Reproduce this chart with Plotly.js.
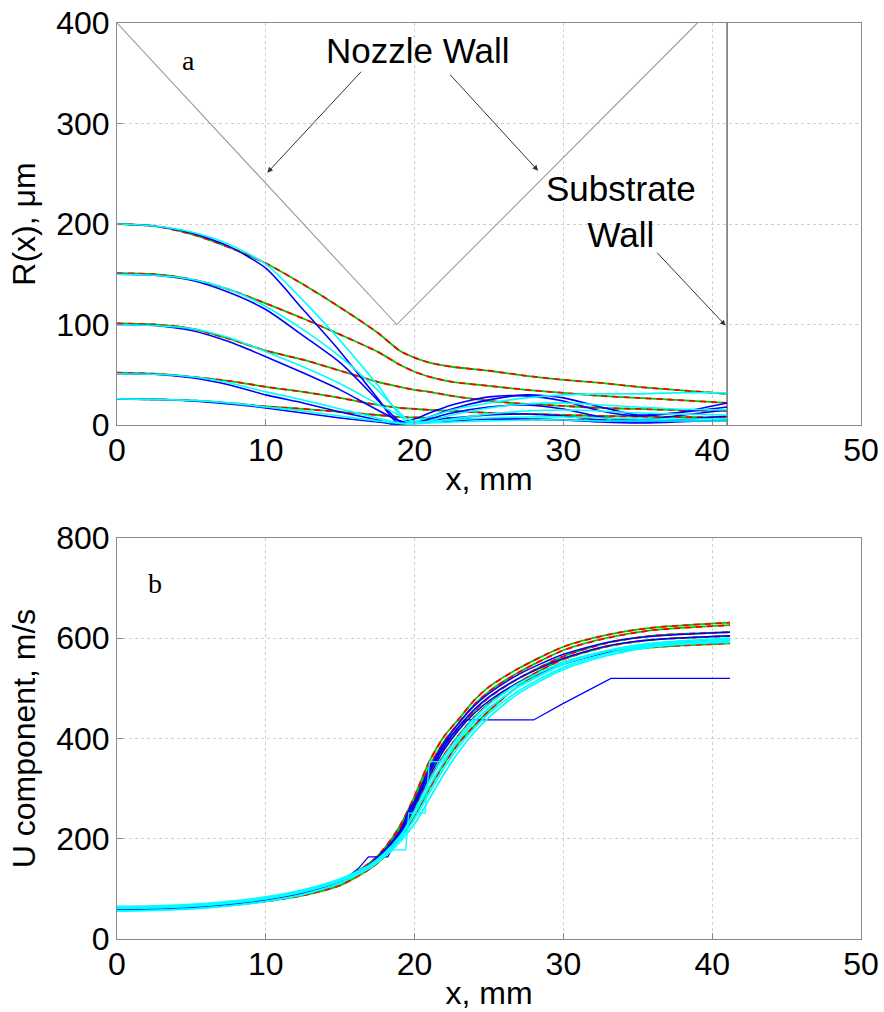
<!DOCTYPE html>
<html>
<head>
<meta charset="utf-8">
<script src="https://cdn.plot.ly/plotly-3.0.1.min.js"></script>
<style>
  html, body { margin: 0; padding: 0; background: #fff; }
  #chart { width: 884px; height: 1012px; }
</style>
</head>
<body>
<div id="chart"></div>
<script>
// ---------- Panel a: radial position R(x) in micrometres ----------
const nozzleX = [0, 18.8, 39.0];
const nozzleR = [400, 100, 400];
const substrateX = [41, 41];
const substrateR = [0, 400];

// gas streamlines (x in mm)
const gasX = [0, 2.5, 5, 7.5, 10, 12.5, 15, 17.5, 19, 20, 21, 22.5, 25, 27.5, 30, 32.5, 35, 37.5, 41];
const gasR200 = [200, 198, 190, 177, 161, 140, 117, 92, 74, 67, 62, 58, 54, 49, 45, 42, 38, 35, 31];
const gasR150 = [151, 150, 145, 135, 121, 106, 90, 73, 60, 53, 48, 43, 39, 35, 32, 29, 27, 25, 22];
const gasR100 = [101, 100, 96, 86, 74, 65, 54, 43, 38, 35, 33, 29, 24, 21, 19, 17, 16, 15, 14];
const gasR50 = [52, 51, 48, 44, 38, 33, 27, 20, 17, 16, 15, 14, 12, 11, 10, 9, 8.5, 8, 7.5];
const gasR25 = [26, 25.5, 24.5, 22, 18.5, 16, 13, 10, 8, 7.5, 7, 6.5, 6, 5.5, 5, 4.8, 4.5, 4.2, 4];

// particle trajectories, heavier (blue) and lighter (cyan)
const pBlue200X = [0, 2.5, 5, 7.5, 10, 12.5, 15, 17.5, 18.8, 20, 21, 22.5, 25, 27.5, 30, 32.5, 35, 37.5, 41];
const pBlue200R = [200, 198, 191, 178, 156, 115, 73, 27, 3, 6, 12, 20, 28, 29, 24, 14, 9, 12, 22];
const pCyan200X = [0, 2.5, 5, 7.5, 10, 12.5, 15, 17.5, 19.5, 21, 22.5, 25, 27.5, 30, 32.5, 35, 37.5, 41];
const pCyan200R = [200, 198, 192, 180, 160, 124, 84, 40, 3, 8, 15, 22, 27, 30, 31, 31, 32, 32];
const pBlue150X = [0, 2.5, 5, 7.5, 10, 12.5, 15, 17.5, 19, 20, 21, 22.5, 25, 27.5, 30, 32.5, 35, 37.5, 41];
const pBlue150R = [150, 149, 144, 132, 115, 89, 62, 25, 4, 3, 8, 16, 25, 30, 27, 18, 10, 12, 18];
const pCyan150X = [0, 2.5, 5, 7.5, 10, 12.5, 15, 17.5, 19.5, 20.5, 22.5, 25, 27.5, 30, 32.5, 35, 37.5, 41];
const pCyan150R = [150, 149, 145, 135, 118, 95, 68, 35, 6, 3, 10, 17, 21, 22, 20, 18, 16, 15];
const pBlue100X = [0, 2.5, 5, 7.5, 10, 12.5, 15, 17.5, 19, 20, 21, 22.5, 25, 27.5, 30, 32.5, 35, 37.5, 41];
const pBlue100R = [100, 99, 94, 83, 68, 52, 35, 15, 4, 2, 6, 12, 18, 20, 16, 8, 5, 9, 15];
const pCyan100X = [0, 2.5, 5, 7.5, 10, 12.5, 15, 17.5, 19.5, 20.5, 22.5, 25, 27.5, 30, 32.5, 35, 37.5, 41];
const pCyan100R = [100, 99, 96, 87, 73, 58, 41, 21, 6, 2, 6, 11, 14, 15, 14, 12, 11, 10];
const pBlue50X = [0, 2.5, 5, 7.5, 10, 12.5, 15, 17.5, 18.5, 20, 22.5, 25, 27.5, 30, 32.5, 35, 37.5, 41];
const pBlue50R = [51, 50.5, 47, 40, 30, 22, 13, 5, 1, 3, 7, 10, 11, 9, 5, 3, 5, 9];
const pCyan50X = [0, 2.5, 5, 7.5, 10, 12.5, 15, 17.5, 19, 20.5, 22.5, 25, 27.5, 30, 32.5, 35, 37.5, 41];
const pCyan50R = [51, 50.5, 48, 42, 33, 25, 16, 7, 2, 2, 5, 7, 8, 8, 7, 6, 6, 6];
const pBlue25X = [0, 2.5, 5, 7.5, 10, 12.5, 15, 17.5, 19, 20, 22.5, 25, 27.5, 30, 32.5, 35, 37.5, 41];
const pBlue25R = [26, 25.5, 24, 21, 17, 12, 7, 3, 1, 2, 4, 6, 6, 5, 3, 2, 3, 5];
const pCyan25X = [0, 2.5, 5, 7.5, 10, 12.5, 15, 17.5, 19.5, 21, 22.5, 25, 27.5, 30, 32.5, 35, 37.5, 41];
const pCyan25R = [26, 25.5, 24.5, 22, 18, 14, 9, 4, 1, 2, 3, 4, 5, 5, 4, 4, 4, 4];

// ---------- Panel b: axial velocity U in m/s ----------
const gasUX = [0, 2.5, 5, 7.5, 10, 12.5, 15, 17, 18, 19, 20, 21, 22, 23, 24, 25, 27, 30, 33, 36, 41.2];
const gasU1 = [62, 63, 66, 71, 79, 93, 116, 152, 182, 225, 285, 355, 405, 440, 476, 503, 540, 583, 607, 621, 631];
const gasU2 = [61, 62, 65, 70, 78, 92, 114, 149, 178, 220, 278, 345, 395, 432, 467, 494, 532, 576, 601, 616, 626];
const gasU3 = [60, 61, 64, 69, 77, 90, 112, 146, 174, 213, 268, 332, 382, 420, 455, 482, 520, 564, 591, 605, 612];
const gasU4 = [59, 60, 63, 68, 76, 89, 110, 143, 170, 207, 258, 318, 368, 408, 442, 470, 512, 558, 584, 597, 604];
const gasU5 = [58, 59, 62, 67, 75, 87, 107, 140, 165, 200, 245, 300, 350, 392, 425, 455, 505, 552, 572, 582, 590];

const bluUX = [0, 2.5, 5, 7.5, 10, 12.5, 15, 17, 18, 19, 20, 21, 22, 23, 24, 25, 27, 30, 33, 36, 41.2];
const bluU1 = [60, 62, 65, 71, 80, 94, 117, 150, 178, 215, 275, 340, 392, 432, 465, 490, 528, 568, 592, 604, 612];
const bluU2 = [59, 61, 64, 70, 79, 93, 116, 148, 176, 212, 270, 333, 385, 425, 458, 483, 520, 560, 585, 597, 605];
const bluU3 = [58, 60, 63, 69, 78, 92, 114, 146, 173, 208, 265, 325, 378, 418, 450, 475, 512, 548, 572, 587, 598];
const bluStepX = [0, 2.5, 5, 7.5, 10, 12.5, 15, 16.2, 16.9, 18.2, 19, 19.7, 20.1, 21, 22, 23, 23.4, 28, 30, 33.2, 41.2];
const bluStepU = [57, 59, 62, 68, 77, 91, 113, 140, 164, 164, 210, 264, 275, 338, 390, 425, 437, 437, 470, 520, 520];

const cyaUX = [0, 2.5, 5, 7.5, 10, 12.5, 15, 17, 18, 19, 20, 21, 22, 23, 24, 25, 27, 30, 33, 36, 41.2];
const cyaU1 = [65, 66, 69, 75, 84, 98, 120, 148, 172, 205, 250, 305, 355, 398, 432, 460, 503, 548, 575, 590, 600];
const cyaU2 = [63, 64, 67, 73, 82, 96, 118, 145, 168, 198, 240, 292, 342, 385, 420, 450, 495, 542, 570, 586, 597];
const cyaU3 = [61, 62, 65, 71, 80, 94, 116, 143, 165, 193, 230, 280, 330, 375, 412, 442, 490, 538, 566, 583, 594];
const cyaU4 = [56, 57, 60, 66, 75, 89, 112, 142, 167, 200, 255, 315, 365, 405, 440, 468, 510, 552, 576, 588, 592];
const cyaStepX = [0, 2.5, 5, 7.5, 10, 12.5, 15, 17, 18.6, 19.4, 19.6, 20.7, 21.0, 21.9, 23, 24, 25, 27, 30, 33, 36, 41.2];
const cyaStepU = [55, 57, 60, 66, 75, 88, 110, 145, 178, 178, 251, 251, 354, 354, 400, 435, 462, 505, 550, 575, 588, 594];

const RED = '#ff0000', GREEN = '#00c800', BLUE = '#0000ff', CYAN = '#00ffff';

function line(x, y, color, opts) {
  opts = opts || {};
  return {
    x: x, y: y, type: 'scatter', mode: 'lines',
    xaxis: opts.xaxis || 'x', yaxis: opts.yaxis || 'y',
    line: {
      color: color, width: opts.width || 1.6,
      dash: opts.dash || 'solid',
      shape: opts.shape || 'spline', smoothing: 0.7
    },
    hoverinfo: 'skip', showlegend: false
  };
}

const traces = [];

// panel a
traces.push(line(nozzleX, nozzleR, '#9a9a9a', {width: 1.1, shape: 'linear'}));
traces.push(line(substrateX, substrateR, '#555555', {width: 1.3, shape: 'linear'}));
[gasR200, gasR150, gasR100, gasR50, gasR25].forEach(r => {
  traces.push(line(gasX, r, GREEN, {width: 1.8}));
  traces.push(line(gasX, r, RED, {width: 1.8, dash: '6px,5px'}));
});
[[pBlue200X, pBlue200R], [pBlue150X, pBlue150R], [pBlue100X, pBlue100R],
 [pBlue50X, pBlue50R], [pBlue25X, pBlue25R]].forEach(p => traces.push(line(p[0], p[1], BLUE, {width: 1.6})));
[[pCyan200X, pCyan200R], [pCyan150X, pCyan150R], [pCyan100X, pCyan100R],
 [pCyan50X, pCyan50R], [pCyan25X, pCyan25R]].forEach(p => traces.push(line(p[0], p[1], CYAN, {width: 1.6})));

// panel b
const b = {xaxis: 'x2', yaxis: 'y2'};
[gasU1, gasU2, gasU3, gasU4, gasU5].forEach(u => {
  traces.push(line(gasUX, u, GREEN, Object.assign({width: 1.8}, b)));
  traces.push(line(gasUX, u, RED, Object.assign({width: 1.8, dash: '6px,5px'}, b)));
});
[bluU1, bluU2, bluU3].forEach(u => traces.push(line(bluUX, u, BLUE, Object.assign({width: 1.5}, b))));
traces.push(line(bluStepX, bluStepU, BLUE, Object.assign({width: 1.3, shape: 'linear'}, b)));
[cyaU1, cyaU2, cyaU3, cyaU4].forEach(u => traces.push(line(cyaUX, u, CYAN, Object.assign({width: 1.8}, b))));
traces.push(line(cyaStepX, cyaStepU, CYAN, Object.assign({width: 1.3, shape: 'linear'}, b)));

const FONT = 'Liberation Sans, Arial, sans-serif';
const tickFont = {family: FONT, size: 32, color: '#000'};
const titleFont = {family: FONT, size: 32, color: '#000'};

function xAxis(domainAnchor) {
  return {
    range: [0, 50], dtick: 10, tick0: 0, anchor: domainAnchor,
    showgrid: true, gridcolor: '#cfcfcf', griddash: 'dot', gridwidth: 1,
    zeroline: false, showline: true, linecolor: '#8a8a8a', linewidth: 1, mirror: true,
    ticks: 'inside', ticklen: 6, tickcolor: '#8a8a8a',
    tickfont: tickFont, ticklabelstandoff: -3,
    title: {text: 'x, mm', font: titleFont, standoff: 0},
    automargin: false
  };
}
function yAxis(range, dtick, title, domain, anchor) {
  return {
    range: range, dtick: dtick, domain: domain, anchor: anchor,
    showgrid: true, gridcolor: '#cfcfcf', griddash: 'dot', gridwidth: 1,
    zeroline: false, showline: true, linecolor: '#8a8a8a', linewidth: 1, mirror: true,
    ticks: 'inside', ticklen: 6, tickcolor: '#8a8a8a',
    tickfont: tickFont,
    title: {text: title, font: titleFont, standoff: 11},
    automargin: false
  };
}

const arrowStyle = {showarrow: true, arrowhead: 2, arrowsize: 1.1, arrowwidth: 1, arrowcolor: '#333', axref: 'x', ayref: 'y', text: ''};

const layout = {
  width: 884, height: 1012,
  margin: {l: 117, r: 23, t: 23, b: 73},
  paper_bgcolor: '#ffffff', plot_bgcolor: '#ffffff',
  xaxis: Object.assign(xAxis('y'), {domain: [0, 1]}),
  yaxis: yAxis([0, 400], 100, 'R(x), μm', [0.5611, 1], 'x'),
  xaxis2: Object.assign(xAxis('y2'), {domain: [0, 1]}),
  yaxis2: yAxis([0, 800], 200, 'U component, m/s', [0, 0.4378], 'x2'),
  annotations: [
    {x: 20.2, y: 373, xref: 'x', yref: 'y', text: 'Nozzle Wall', showarrow: false,
     font: {family: FONT, size: 35, color: '#000'}},
    {x: 33.9, y: 212, xref: 'x', yref: 'y', text: 'Substrate<br>Wall', showarrow: false,
     font: {family: FONT, size: 35, color: '#000'}},
    {x: 4.8, y: 363, xref: 'x', yref: 'y', text: 'a', showarrow: false,
     font: {family: 'Liberation Serif, Times New Roman, serif', size: 28, color: '#000'}},
    {x: 2.55, y: 710, xref: 'x2', yref: 'y2', text: 'b', showarrow: false,
     font: {family: 'Liberation Serif, Times New Roman, serif', size: 28, color: '#000'}},
    Object.assign({xref: 'x', yref: 'y', x: 10.1, y: 251, ax: 16.5, ay: 353}, arrowStyle),
    Object.assign({xref: 'x', yref: 'y', x: 28.3, y: 253, ax: 22.3, ay: 350}, arrowStyle),
    Object.assign({xref: 'x', yref: 'y', x: 40.9, y: 99, ax: 36.2, ay: 173}, arrowStyle)
  ]
};

Plotly.newPlot('chart', traces, layout, {staticPlot: true, displayModeBar: false});
</script>
</body>
</html>
